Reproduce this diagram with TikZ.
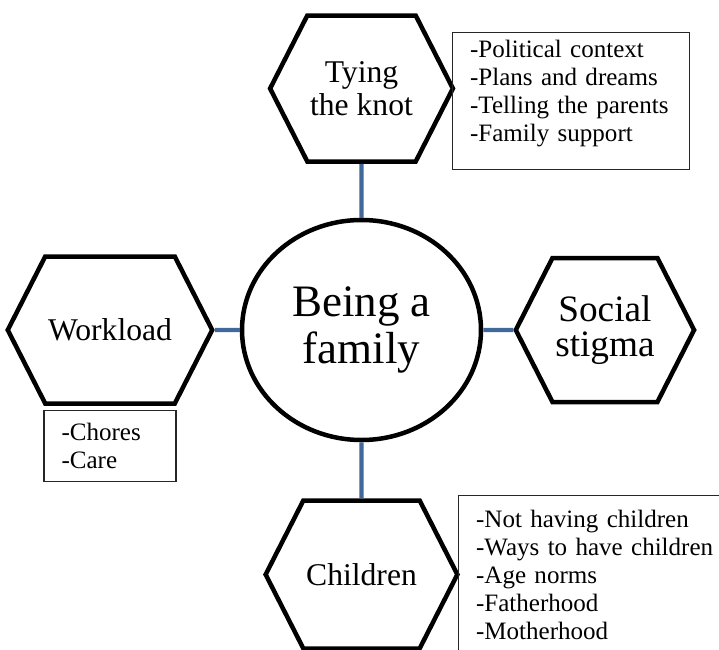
\documentclass[tikz,border=0pt]{standalone}
\usepackage{fontspec}
\setmainfont{Liberation Serif}
\usepackage{tikz}
\usetikzlibrary{positioning,shapes.geometric,shapes.symbols}
\definecolor{linkblue}{RGB}{64,104,152}
\tikzset{
  hub/.style={ellipse,draw,line width=3.2pt,minimum width=5.975cm,
    minimum height=5.5cm,align=center,inner sep=2pt,
    font=\fontsize{32pt}{33pt}\selectfont},
  % six-sided theme boxes, pointed on the left and right
  hexa/.style={signal,signal to=east and west,signal pointer angle=126,
    draw,line width=3.2pt,align=center,inner sep=2pt,
    font=\fontsize{22.5pt}{23.5pt}\selectfont},
  link/.style={draw=linkblue,line width=3pt},
  topics/.style={rectangle,draw=black!85,line width=0.8pt,align=left,
    inner xsep=12.5pt,inner ysep=5.6pt,
    font=\fontsize{17.8pt}{19.9pt}\selectfont}
}
\begin{document}
\begin{tikzpicture}
  \path[use as bounding box,clip] (0,0) rectangle (17.975,-16.25);
  \node[hub] (fam) at (9.0375,-8.25) {Being a\\family};
  \node[hexa,minimum width=4.54cm,minimum height=3.65cm,above=1.35cm of fam] (knot) {Tying\\the knot};
  \node[hexa,minimum width=4.96cm,minimum height=3.675cm,left=0.625cm of fam] (work) {Workload};
  \node[hexa,minimum width=4.44cm,minimum height=3.6cm,right=0.75cm of fam,
    font=\fontsize{26.5pt}{25pt}\selectfont] (stig) {Social\\stigma};
  \node[hexa,minimum width=4.76cm,minimum height=3.7cm,below=1.4cm of fam] (kids) {Children};
  \draw[link] (fam) -- (knot);
  \draw[link] (fam) -- (work);
  \draw[link] (fam) -- (stig);
  \draw[link] (fam) -- (kids);
  % sub-topics of each theme
  \node[topics,anchor=north west,text width=143.6pt,text depth=74pt] (knotlist) at (11.3,-0.8)
    {-Political context\\-Plans and dreams\\-Telling the parents\\-Family support};
  \node[topics,text width=68.9pt,minimum height=50.5pt,below=0.1cm of work] (worklist)
    {-Chores\\-Care};
  \node[topics,anchor=north west,text width=187pt,inner ysep=10.6pt] (kidslist) at (11.45,-12.375)
    {-Not having children\\-Ways to have children\\-Age norms\\-Fatherhood\\-Motherhood};
\end{tikzpicture}
\end{document}
